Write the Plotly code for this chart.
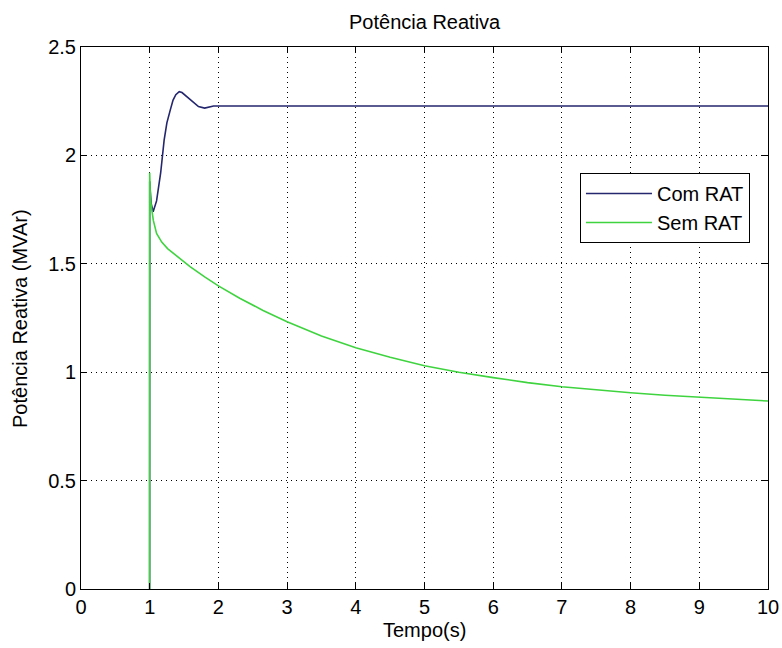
import plotly.graph_objects as go

# Reactive power response, with and without the voltage regulator (RAT)
t_com = [0.999, 1.0, 1.02, 1.05, 1.10, 1.16, 1.21, 1.25, 1.30, 1.34, 1.38,
         1.43, 1.47, 1.51, 1.56, 1.61, 1.66, 1.71, 1.80, 1.87, 1.93, 2.0, 10.0]
q_com = [0, 1.88, 1.78, 1.74, 1.79, 1.92, 2.07, 2.15, 2.21, 2.255, 2.28,
         2.294, 2.29, 2.279, 2.265, 2.248, 2.235, 2.225, 2.218, 2.222, 2.228, 2.228, 2.228]

t_sem = [0.999, 1.0, 1.01, 1.03, 1.053, 1.10, 1.175, 1.26, 1.344, 1.45, 1.587,
         1.8, 2.0, 2.31, 2.65, 3.0, 3.5, 4.0, 4.5, 5.0, 5.5, 6.0, 6.5, 7.0,
         7.5, 8.0, 8.5, 9.0, 9.5, 10.0]
q_sem = [0, 1.92, 1.80, 1.75, 1.70, 1.64, 1.60, 1.57, 1.548, 1.52, 1.487,
         1.44, 1.398, 1.341, 1.285, 1.233, 1.167, 1.113, 1.069, 1.030, 1.000,
         0.975, 0.952, 0.933, 0.918, 0.905, 0.894, 0.884, 0.875, 0.867]

x_ticks = [0, 1, 2, 3, 4, 5, 6, 7, 8, 9, 10]
y_ticks = [0, 0.5, 1, 1.5, 2, 2.5]
y_tick_text = ["0", "0.5", "1", "1.5", "2", "2.5"]

FONT = "Liberation Sans, Arial, sans-serif"
FS = 20

fig = go.Figure()
fig.add_trace(go.Scatter(x=t_com, y=q_com, mode="lines", name="Com RAT",
                         line=dict(color="#24266e", width=1.6)))
fig.add_trace(go.Scatter(x=t_sem, y=q_sem, mode="lines", name="Sem RAT",
                         line=dict(color="#3fd43f", width=1.6)))

axis_common = dict(
    showline=True, linecolor="black", linewidth=1, mirror="ticks",
    ticks="inside", ticklen=6, tickcolor="black", tickwidth=1,
    showgrid=True, gridcolor="black", gridwidth=1, griddash="1px,4px",
    zeroline=False, automargin=False,
    tickfont=dict(family=FONT, size=FS, color="black"),
)

fig.update_xaxes(range=[0, 10], tickvals=x_ticks, **axis_common)
fig.update_yaxes(range=[0, 2.5], tickvals=y_ticks, ticktext=y_tick_text, **axis_common)

fig.update_layout(
    width=782, height=648,
    margin=dict(l=81, r=14, t=47, b=59),
    paper_bgcolor="white", plot_bgcolor="white",
    font=dict(family=FONT, size=FS, color="black"),
    showlegend=True,
    legend=dict(x=0.7263, y=0.7675, xanchor="left", yanchor="top",
                bgcolor="white", bordercolor="black", borderwidth=1,
                font=dict(family=FONT, size=FS, color="black"),
                itemwidth=66),
    annotations=[
        dict(text="Potência Reativa", xref="paper", yref="paper", x=0.5, y=1.046,
             xanchor="center", yanchor="middle", showarrow=False,
             font=dict(family=FONT, size=FS, color="black")),
        dict(text="Tempo(s)", xref="paper", yref="paper", x=0.5, y=-0.0756,
             xanchor="center", yanchor="middle", showarrow=False,
             font=dict(family=FONT, size=FS, color="black")),
        dict(text="Potência Reativa (MVAr)", xref="paper", yref="paper", x=-0.0888, y=0.5,
             xanchor="center", yanchor="middle", showarrow=False, textangle=-90,
             font=dict(family=FONT, size=FS, color="black")),
    ],
)

fig.write_html("out.html")
